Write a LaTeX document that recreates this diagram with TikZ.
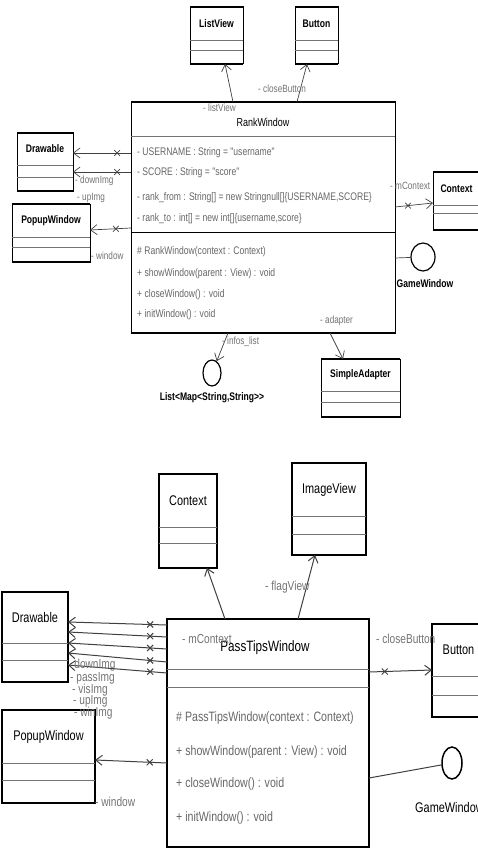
\documentclass[tikz,border=0pt]{standalone}
\usepackage{fontspec}
\setmainfont{Liberation Sans}
\newfontfamily\umlfont[FakeStretch=0.78]{Liberation Sans}
\usetikzlibrary{arrows.meta,shapes.misc,shapes.geometric}

\begin{document}
\begin{tikzpicture}[x=1pt, y=-1pt,
    clsbox/.style={draw, line width=1pt, inner sep=0pt, outer sep=0pt},
    sepline/.style={draw=black!55, line width=0.8pt},
    assoc/.style={draw=black!75, line width=0.7pt, -{Straight Barb[length=6.5pt,width=10pt]}},
    nonav/.style={cross out, draw=black!75, line width=0.7pt, minimum size=5pt, inner sep=0pt},
    iface/.style={ellipse, draw, line width=1.2pt, inner sep=0pt},
    ttl/.style={inner sep=0pt, font=\umlfont\fontsize{11}{12}\selectfont\bfseries},
    mem/.style={anchor=west, inner sep=0pt, text=black!60, font=\umlfont\fontsize{11}{12}\selectfont},
    lbl/.style={anchor=west, inner sep=0pt, text=black!55, font=\umlfont\fontsize{10.5}{11}\selectfont},
    ttlb/.style={inner sep=0pt, font=\umlfont\fontsize{14}{15}\selectfont},
    memb/.style={anchor=west, inner sep=0pt, text=black!60, font=\umlfont\fontsize{13.6}{15}\selectfont},
    lblb/.style={anchor=west, inner sep=0pt, text=black!55, font=\umlfont\fontsize{13}{14}\selectfont}]
    \useasboundingbox (0,0) rectangle (477,848);

    % upper diagram: RankWindow
    \foreach \nm/\xa/\ya/\xb/\yb/\sa/\sb/\ttlname in {lv/190/7/243/64/40/50/ListView,
        btn/295/7/338/64/40/50/Button, drw/17/133/73/191/165/177/Drawable,
        pop/12/204/90/262/237/247/PopupWindow, ctx/433/172/480/230/205/213/Context,
        sad/321/359/400/417/391/402/SimpleAdapter}{
        \node[clsbox, minimum width={(\xb-\xa)*1pt}, minimum height={(\yb-\ya)*1pt}]
            (\nm) at ({(\xa+\xb)/2},{(\ya+\yb)/2}) {};
        \draw[line width=2pt] (\nm.north west) -- (\nm.north east) (\nm.south west) -- (\nm.south east);
        \draw[sepline] (\xa,\sa) -- (\xb,\sa) (\xa,\sb) -- (\xb,\sb);
        \node[ttl] (\nm T) at ({(\xa+\xb)/2},{(\ya+\sa)/2}) {\ttlname};
    }

    \node[clsbox, minimum width=264pt, minimum height=231pt] (rank) at (263,217.5) {};
    \draw[line width=1.8pt] (rank.north west) -- (rank.north east) (rank.south west) -- (rank.south east);
    \draw[sepline] (131,136) -- (395,136);
    \draw[line width=1pt] (131,232) -- (395,232);
    \node[ttl, font=\umlfont\fontsize{11.5}{12}\selectfont] (rankT) at (263,122) {RankWindow};

    \node[mem] (a1) at (137,153) {- USERNAME : String = "username"};
    \node[mem] (a2) at (137,173) {- SCORE : String = "score"};
    \node[mem] (a3) at (137,198) {- rank\_from : String[] = new Stringnull[]\{USERNAME,SCORE\}};
    \node[mem] (a4) at (137,219) {- rank\_to : int[] = new int[]\{username,score\}};
    \node[mem] (m1) at (137,252) {\# RankWindow(context : Context)};
    \node[mem] (m2) at (137,274) {+ showWindow(parent : View) : void};
    \node[mem] (m3) at (137,295) {+ closeWindow() : void};
    \node[mem] (m4) at (137,315) {+ initWindow() : void};

    \node[iface, minimum width=24pt, minimum height=28pt] (gw) at (423,257) {};
    \node[ttl] (gwT) at (425,284) {GameWindow};
    \node[iface, minimum width=18pt, minimum height=26pt] (lst) at (212,373) {};
    \node[ttl] (lstT) at (212,398) {List<Map<String,String>>};

    \draw[assoc] ([xshift=-30pt]rank.north) -- ([xshift=8.5pt]lv.south);
    \draw[assoc] ([xshift=34pt]rank.north) -- ([xshift=-9.5pt]btn.south);
    \draw[assoc] ([yshift=64.5pt]rank.west) -- node[nonav, pos=0.24]{} ([yshift=9pt]drw.east);
    \draw[assoc] ([yshift=45.5pt]rank.west) -- node[nonav, pos=0.24]{} ([yshift=-10pt]drw.east);
    \draw[assoc] ([yshift=-10.5pt]rank.west) -- node[nonav, pos=0.37]{} ([yshift=3pt]pop.east);
    \draw[assoc] ([yshift=10.5pt]rank.east) -- node[nonav, pos=0.34]{} ([yshift=-2pt]ctx.west);
    \draw[draw=black!75, line width=0.7pt] ([yshift=-40.5pt]rank.east) -- (gw);
    \draw[assoc] ([xshift=-35pt]rank.south) -- (lst);
    \draw[assoc] ([xshift=67pt]rank.south) -- ([xshift=-17.5pt]sad.north);

    \node[lbl] (lvL) at (203,108) {- listView};
    \node[lbl] (btnL) at (258,89) {- closeButton};
    \node[lbl] (drwL1) at (75,181) {- downImg};
    \node[lbl] (drwL2) at (77,198) {- upImg};
    \node[lbl] (popL) at (91,256) {- window};
    \node[lbl] (ctxL) at (390,186) {- mContext};
    \node[lbl] (lstL) at (222,342) {- infos\_list};
    \node[lbl] (sadL) at (320,321) {- adapter};

    % lower diagram: PassTipsWindow
    \foreach \nm/\xa/\ya/\xb/\yb/\sa/\sb/\ttlname in {ctxb/159/474/217/568/527/543/Context,
        img/292/463/366/555/516/534/ImageView, drwb/2/592/68/682/643/660/Drawable,
        popb/2/710/95/803/763/780/PopupWindow, btnb/432/624/485/717/676/695/Button}{
        \node[clsbox, line width=1.4pt, minimum width={(\xb-\xa)*1pt}, minimum height={(\yb-\ya)*1pt}]
            (\nm) at ({(\xa+\xb)/2},{(\ya+\yb)/2}) {};
        \draw[line width=2.8pt] (\nm.north west) -- (\nm.north east) (\nm.south west) -- (\nm.south east);
        \draw[sepline, line width=1pt] (\xa,\sa) -- (\xb,\sa) (\xa,\sb) -- (\xb,\sb);
        \node[ttlb] (\nm T) at ({(\xa+\xb)/2},{(\ya+\sa)/2}) {\ttlname};
    }

    \node[clsbox, line width=1.4pt, minimum width=202pt, minimum height=228pt] (pass) at (268,733) {};
    \draw[line width=2.8pt] (pass.north west) -- (pass.north east) (pass.south west) -- (pass.south east);
    \draw[sepline, line width=1pt] (167,669) -- (369,669) (167,687) -- (369,687);
    \node[ttlb, font=\umlfont\fontsize{15}{16}\selectfont] (passT) at (265,648) {PassTipsWindow};

    \node[memb] (pm1) at (176,718) {\# PassTipsWindow(context : Context)};
    \node[memb] (pm2) at (176,752) {+ showWindow(parent : View) : void};
    \node[memb] (pm3) at (176,784) {+ closeWindow() : void};
    \node[memb] (pm4) at (176,818) {+ initWindow() : void};

    \node[iface, line width=1.5pt, minimum width=20pt, minimum height=32pt] (gwb) at (452,763) {};
    \node[ttlb, anchor=west] (gwbT) at (415,807) {GameWindow};

    \draw[assoc, line width=1pt] ([xshift=-43pt]pass.north) -- ([xshift=19pt]ctxb.south);
    \draw[assoc, line width=1pt] ([xshift=30pt]pass.north) -- ([xshift=-14pt]img.south);
    \foreach \ya/\yb in {108/15, 96/5, 84/-6, 71/-16, 60/-28}
        \draw[assoc, line width=1pt] ([yshift=\ya pt]pass.west) -- node[nonav, line width=1pt, pos=0.17]{} ([yshift=\yb pt]drwb.east);
    \draw[assoc, line width=1pt] ([yshift=-30pt]pass.west) -- node[nonav, line width=1pt, pos=0.24]{} ([yshift=-3.5pt]popb.east);
    \draw[assoc, line width=1pt] ([yshift=61pt]pass.east) -- node[nonav, line width=1pt, pos=0.25]{} ([yshift=0.5pt]btnb.west);
    \draw[draw=black!75, line width=1pt] ([yshift=-45pt]pass.east) -- (gwb);

    \node[lblb] (imgL) at (265,587) {- flagView};
    \node[lblb] (ctxbL) at (182,639) {- mContext};
    \node[lblb] (btnbL) at (376,639) {- closeButton};
    \node[lblb] (popbL) at (95,802) {- window};
    \foreach \t/\xx/\yy in {downImg/68/665, passImg/70/678, visImg/72/690, upImg/73/701, winImg/74/713}
        \node[lblb] (drwbL\t) at (\xx,\yy) {- \t};
\end{tikzpicture}
\end{document}
